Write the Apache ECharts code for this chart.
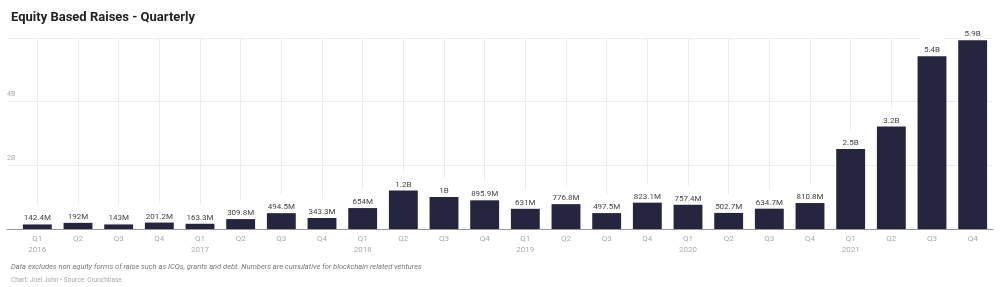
<!DOCTYPE html>
<html>
<head>
<meta charset="utf-8">
<script src="https://cdn.jsdelivr.net/npm/echarts@6/dist/echarts.min.js"></script>
<style>
html,body{margin:0;padding:0;background:#fff;}
#c{width:1000px;height:287px;}
</style>
</head>
<body>
<div id="c"></div>
<script>
const quarters = ["Q1\n2016","Q2","Q3","Q4","Q1\n2017","Q2","Q3","Q4","Q1\n2018","Q2","Q3","Q4","Q1\n2019","Q2","Q3","Q4","Q1\n2020","Q2","Q3","Q4","Q1\n2021","Q2","Q3","Q4"];
const raisesB = [0.1424,0.192,0.143,0.2012,0.1633,0.3098,0.4945,0.3433,0.654,1.2,1.0,0.8959,0.631,0.7768,0.4975,0.8231,0.7574,0.5027,0.6347,0.8108,2.5,3.2,5.4,5.9];
const valueLabels = ["142.4M","192M","143M","201.2M","163.3M","309.8M","494.5M","343.3M","654M","1.2B","1B","895.9M","631M","776.8M","497.5M","823.1M","757.4M","502.7M","634.7M","810.8M","2.5B","3.2B","5.4B","5.9B"];
const yTicks = [0,2,4];
const title = "Equity Based Raises - Quarterly";
const note = "Data excludes non equity forms of raise such as ICOs, grants and debt. Numbers are cumulative for blockchain related ventures";
const credit = "Chart: Joel John \u2022 Source: Crunchbase";

const chart = echarts.init(document.getElementById('c'), null, {renderer:'canvas'});
const yMax = 5.95;
chart.setOption({
  animation:false,
  backgroundColor:'#fff',
  textStyle:{fontFamily:'Roboto, "Noto Sans", sans-serif'},
  title:[
    {text:title,left:6,top:6,textStyle:{fontSize:13,fontWeight:'bold',color:'#222',fontFamily:'Roboto, sans-serif'}},
    {text:note,left:6,top:258,textStyle:{fontSize:7.5,fontStyle:'italic',fontWeight:'normal',color:'#777'}},
    {text:credit,left:6,top:272,textStyle:{fontSize:6.5,fontWeight:'normal',color:'#aaa'}}
  ],
  grid:[
    {left:17,right:7,top:38.6,bottom:58,containLabel:false},
    {left:7,right:7,top:38.6,bottom:58,containLabel:false}
  ],
  xAxis:[
    {type:'category',gridIndex:0,data:quarters,
     axisLine:{show:false},axisTick:{show:false},splitLine:{show:false},
     axisLabel:{color:'#aaa',fontSize:8,lineHeight:11,margin:4,interval:0}},
    {type:'value',gridIndex:1,min:0,max:1,
     axisLine:{show:true,onZero:true,lineStyle:{color:'#999',width:1}},
     axisTick:{show:false},axisLabel:{show:false},splitLine:{show:false}}
  ],
  yAxis:[
    {type:'value',gridIndex:0,min:0,max:yMax,interval:2,show:false},
    {type:'value',gridIndex:1,min:0,max:yMax,interval:2,
     axisLine:{show:false},axisTick:{show:false},
     splitLine:{show:true,lineStyle:{color:'#ececec',width:1}},
     axisLabel:{inside:true,margin:0,color:'#aaa',fontSize:7,verticalAlign:'bottom',padding:[0,0,3,0],
       formatter:function(v){return yTicks.indexOf(v)>0 ? v+'B' : '';}}}
  ],
  series:[
    {type:'line',xAxisIndex:0,yAxisIndex:0,data:[],z:1,silent:true,
     markLine:{silent:true,z:1,symbol:['none','none'],label:{show:false},
       lineStyle:{color:'#ececec',width:1,type:'solid'},emphasis:{disabled:true},
       data:quarters.map(function(q,i){return {xAxis:i};})}},
    {type:'bar',xAxisIndex:0,yAxisIndex:0,data:raisesB,z:3,
     barCategoryGap:'29%',
     itemStyle:{color:'#25253f'},
     label:{show:true,position:'top',distance:1,color:'#444',fontSize:8,
       backgroundColor:'#fff',padding:[9,3,1,3],
       formatter:function(p){return valueLabels[p.dataIndex];}}}
  ]
});
</script>
</body>
</html>
